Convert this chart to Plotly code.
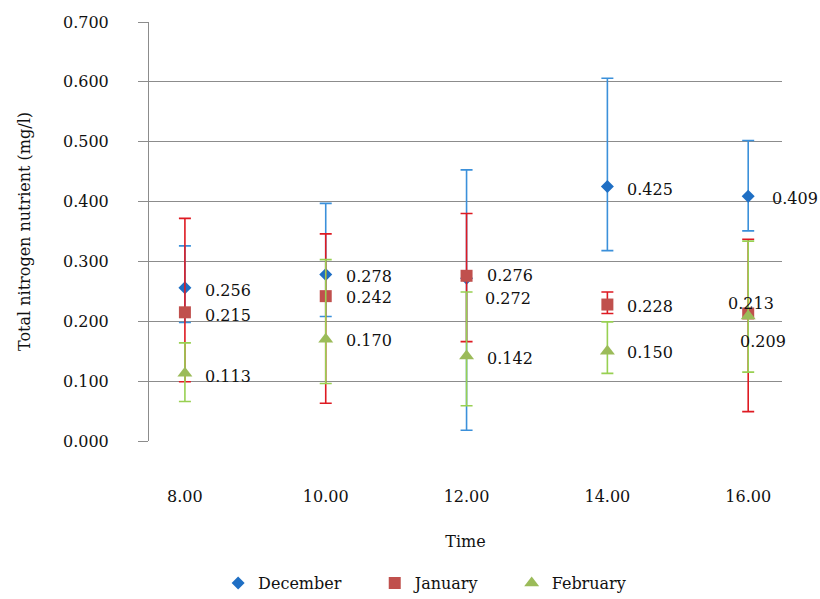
import plotly.graph_objects as go

# ---- data ----
times = [8, 10, 12, 14, 16]
tick_text = ["8.00", "10.00", "12.00", "14.00", "16.00"]
y_ticks = [0.0, 0.1, 0.2, 0.3, 0.4, 0.5, 0.6, 0.7]

dec_mean = [0.256, 0.278, 0.272, 0.425, 0.409]
dec_upper = [0.326, 0.397, 0.453, 0.606, 0.502]
dec_lower = [0.198, 0.208, 0.018, 0.318, 0.351]

jan_mean = [0.215, 0.242, 0.276, 0.228, 0.213]
jan_upper = [0.372, 0.346, 0.380, 0.249, 0.337]
jan_lower = [0.099, 0.063, 0.166, 0.213, 0.049]

feb_mean = [0.113, 0.170, 0.142, 0.150, 0.209]
feb_upper = [0.164, 0.303, 0.249, 0.199, 0.334]
feb_lower = [0.066, 0.096, 0.059, 0.113, 0.115]

# ---- styles ----
FONT = "DejaVu Serif"
series = [
    dict(name="December", mean=dec_mean, up=dec_upper, lo=dec_lower,
         symbol="diamond", size=10, mcolor="#1f6fc4", ecolor="#3b90da",
         legend="legend", lx=0.266,
         offs=[(18, -3), (18, -2), (16, -20), (18, -3), (22, -2)]),
    dict(name="January", mean=jan_mean, up=jan_upper, lo=jan_lower,
         symbol="square", size=12, mcolor="#c0504d", ecolor="#de1a22",
         legend="legend2", lx=0.457,
         offs=[(18, -3), (18, -1), (18, 0), (18, -2), (-22, 10)]),
    dict(name="February", mean=feb_mean, up=feb_upper, lo=feb_lower,
         symbol="triangle-up", size=13, mcolor="#9bbb59", ecolor="#98d052",
         legend="legend3", lx=0.624,
         offs=[(18, -3), (18, -1), (18, -2), (18, -1), (-10, -26)]),
]

fig = go.Figure()
annotations = []
legends = {}
for s in series:
    plus = [u - m for u, m in zip(s["up"], s["mean"])]
    minus = [m - l for m, l in zip(s["mean"], s["lo"])]
    fig.add_trace(go.Scatter(
        x=times, y=s["mean"], name=s["name"], mode="markers",
        legend=s["legend"],
        marker=dict(symbol=s["symbol"], size=s["size"], color=s["mcolor"],
                    line=dict(width=0)),
        error_y=dict(type="data", symmetric=False, array=plus, arrayminus=minus,
                     color=s["ecolor"], thickness=1.6, width=6),
    ))
    legends[s["legend"]] = dict(
        orientation="h", xref="container", yref="container",
        x=s["lx"], xanchor="left", y=1 - 583 / 599, yanchor="middle",
        font=dict(family=FONT, size=16), itemwidth=30, bgcolor="rgba(0,0,0,0)",
    )
    for x, m, (dx, dy) in zip(times, s["mean"], s["offs"]):
        annotations.append(dict(
            x=x, y=m, xref="x", yref="y", text=f"{m:.3f}", showarrow=False,
            xanchor="left", yanchor="middle", xshift=dx, yshift=dy,
            font=dict(family=FONT, size=16, color="#111111"),
        ))

fig.update_layout(
    width=820, height=599,
    margin=dict(l=149, r=38, t=22, b=158),
    paper_bgcolor="white", plot_bgcolor="white",
    font=dict(family=FONT, size=16, color="#111111"),
    showlegend=True,
    annotations=annotations,
    **legends,
)
fig.update_xaxes(
    range=[7.49, 16.48], tickmode="array", tickvals=times, ticktext=tick_text,
    showgrid=False, zeroline=False, showline=False, ticks="",
    ticklabelstandoff=44, automargin=False,
    title=dict(text="Time", standoff=30, font=dict(family=FONT, size=16)),
    tickfont=dict(family=FONT, size=16),
)
fig.update_yaxes(
    range=[0, 0.7], tickmode="array", tickvals=y_ticks,
    ticktext=[f"{v:.3f}" for v in y_ticks],
    showgrid=True, gridcolor="#8c8c8c", gridwidth=1,
    zeroline=False, showline=True, linecolor="#8c8c8c", linewidth=1,
    ticks="outside", ticklen=10, tickcolor="#8c8c8c",
    ticklabelstandoff=26, automargin=False,
    title=dict(text="Total nitrogen nutrient (mg/l)", standoff=28,
               font=dict(family=FONT, size=16)),
    tickfont=dict(family=FONT, size=16),
)

fig.write_html("out.html")
